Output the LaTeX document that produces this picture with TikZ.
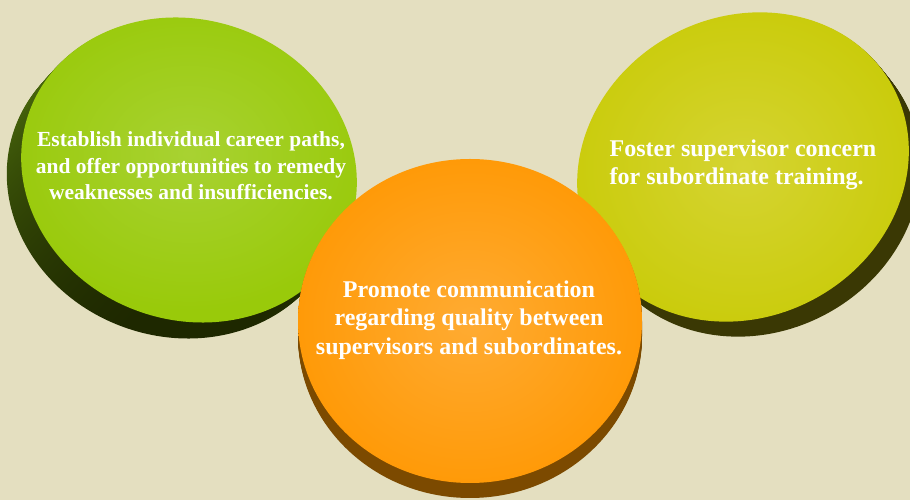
\documentclass[tikz,border=0pt]{standalone}
\usepackage{fontspec}
\setmainfont{Liberation Serif}
\usetikzlibrary{positioning}
\definecolor{mybg}{HTML}{E4DFC0}
\definecolor{mygreen}{HTML}{99CA0A}
\definecolor{mygreenlight}{HTML}{A8D232}
\definecolor{mygreenside}{HTML}{557A10}
\definecolor{mygreendark}{HTML}{1E2800}
\definecolor{myyellow}{HTML}{C9CB08}
\definecolor{myyellowlight}{HTML}{D5D432}
\definecolor{myyellowside}{HTML}{3A3804}
\definecolor{myorange}{HTML}{FF9A08}
\definecolor{myorangelight}{HTML}{FFAB32}
\definecolor{myorangeside}{HTML}{7C4A00}
\begin{document}
\begin{tikzpicture}[x=1pt,y=1pt,
label text/.style={text=white, font=\bfseries\fontsize{24}{28.5}\selectfont, align=center}]
\fill[mybg] (0,0) rectangle (910,500);
\useasboundingbox (0,0) rectangle (910,500);
% green disc
\foreach \k in {16,...,1}
  \shade[top color=mygreenside, bottom color=mygreendark,
    shift={(189-0.9*\k,330-\k)}, rotate=-20] (0,0) ellipse [x radius=170, y radius=150];
\shade[inner color=mygreenlight, outer color=mygreen, shift={(189,330)}, rotate=-20]
  (0,0) ellipse [x radius=170, y radius=150];
% yellow disc
\foreach \k in {15,...,1}
  \fill[myyellowside, shift={(743+0.8*\k,333-\k)}, rotate=28] (0,0) ellipse [x radius=170, y radius=150];
\shade[inner color=myyellowlight, outer color=myyellow, shift={(743,333)}, rotate=28]
  (0,0) ellipse [x radius=170, y radius=150];
% orange disc
\foreach \k in {15,...,1}
  \fill[myorangeside, shift={(470,179-\k)}] (0,0) ellipse [x radius=172, y radius=162];
\shade[inner color=myorangelight, outer color=myorange, shift={(470,179)}]
  (0,0) ellipse [x radius=172, y radius=162];
% texts
\node[label text, font=\bfseries\fontsize{21.5}{26.5}\selectfont] (career) at (191,334)
  {Establish individual career paths,\\and offer opportunities to remedy\\weaknesses and insufficiencies.};
\node[label text, align=left] (concern) at (743,335) {Foster supervisor concern\\for subordinate training.};
\node[label text] (communication) at (469,180) {Promote communication\\regarding quality between\\supervisors and subordinates.};
\end{tikzpicture}
\end{document}
